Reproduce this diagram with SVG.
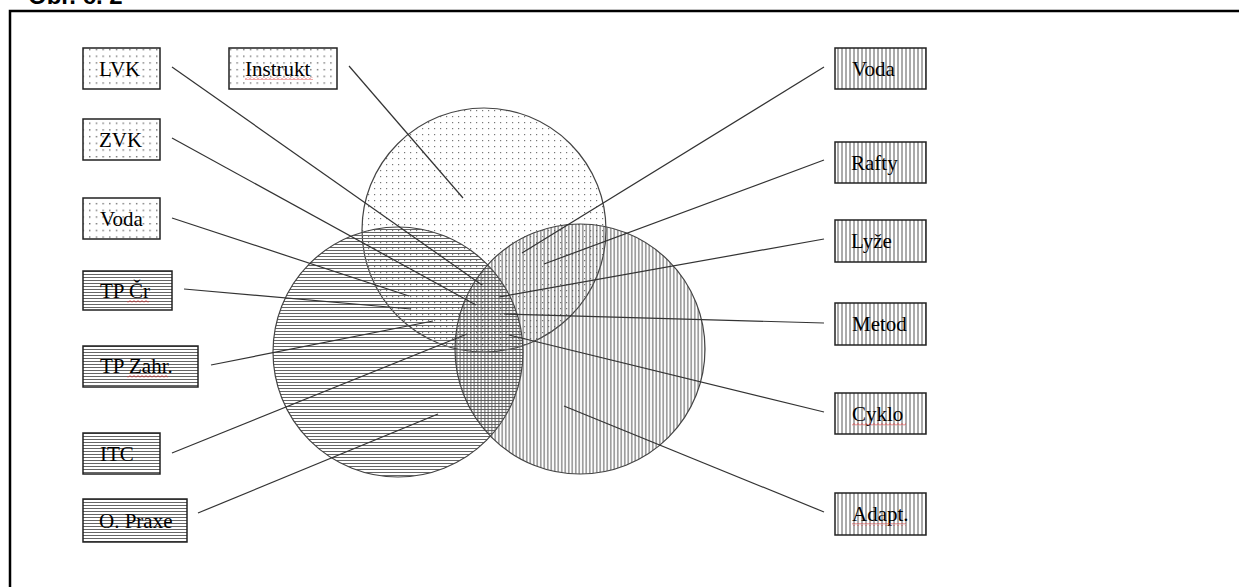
<svg xmlns="http://www.w3.org/2000/svg" width="1239" height="587" viewBox="0 0 1239 587">
<defs>
<pattern id="dots" width="6.7" height="6.7" patternUnits="userSpaceOnUse">
<rect x="2" y="2" width="1.3" height="1.3" fill="#555"/>
</pattern>
<pattern id="dotsC" width="6" height="6" patternUnits="userSpaceOnUse">
<rect x="2" y="2" width="1.2" height="1.2" fill="#777"/>
</pattern>
<pattern id="hlines" width="6" height="3" patternUnits="userSpaceOnUse">
<line x1="0" y1="1.5" x2="6" y2="1.5" stroke="#666" stroke-width="1"/>
</pattern>
<pattern id="vlines" width="4" height="6" patternUnits="userSpaceOnUse">
<line x1="2" y1="0" x2="2" y2="6" stroke="#555" stroke-width="1"/>
</pattern>
<pattern id="vlinesC" width="3.5" height="6" patternUnits="userSpaceOnUse">
<line x1="1.75" y1="0" x2="1.75" y2="6" stroke="#555" stroke-width="1"/>
</pattern>
<pattern id="squiggle" width="4" height="3" patternUnits="userSpaceOnUse">
<path d="M0,2.5 L2,0.5 L4,2.5" fill="none" stroke="#e03030" stroke-width="0.8"/>
</pattern>
</defs>
<style>
.box{stroke:#222;stroke-width:1.5}
.bg{fill:#fff}
.lbl{font-family:"Liberation Serif","Times New Roman",serif;font-size:21px;fill:#000}
.circ{stroke:#444;stroke-width:1.2}
.conn line{stroke:#333;stroke-width:1.2}
.title{font-family:"Liberation Sans",Arial,sans-serif;font-weight:bold;font-size:24px;fill:#000}
</style>
<rect width="1239" height="587" fill="#fff"/>
<text class="title" x="28" y="4">Obr. č. 2</text>
<path d="M10,587 V11 H1239" fill="none" stroke="#000" stroke-width="2.5"/>

<g id="circles">
<circle id="circle-top" class="circ" cx="484" cy="230" r="122" fill="url(#dotsC)"/>
<circle id="circle-left" class="circ" cx="398" cy="352" r="125" fill="url(#hlines)"/>
<circle id="circle-right" class="circ" cx="580" cy="349" r="125" fill="url(#vlinesC)"/>
</g>

<g id="connectors" class="conn">
<line x1="172" y1="67" x2="482" y2="285"/>
<line x1="349" y1="66" x2="463" y2="198"/>
<line x1="172" y1="138" x2="476" y2="305"/>
<line x1="172" y1="218" x2="409" y2="296"/>
<line x1="184" y1="289" x2="411" y2="309"/>
<line x1="211" y1="365" x2="433" y2="321"/>
<line x1="172" y1="453" x2="467" y2="334"/>
<line x1="198" y1="513" x2="438" y2="414"/>
<line x1="824" y1="67" x2="522" y2="253"/>
<line x1="824" y1="160" x2="544" y2="264"/>
<line x1="824" y1="239" x2="499" y2="297"/>
<line x1="824" y1="323" x2="504" y2="314"/>
<line x1="824" y1="412" x2="509" y2="335"/>
<line x1="824" y1="512" x2="564" y2="406"/>
</g>

<g id="node-lvk"><rect class="bg" x="83" y="48" width="77" height="41"/><rect class="box" x="83" y="48" width="77" height="41" fill="url(#dots)"/><text class="lbl" x="99" y="76">LVK</text></g>
<g id="node-instrukt"><rect class="bg" x="229" y="48" width="108" height="41"/><rect class="box" x="229" y="48" width="108" height="41" fill="url(#dots)"/><text class="lbl" x="245" y="76">Instrukt</text><rect x="245" y="77" width="68" height="3" fill="url(#squiggle)"/></g>
<g id="node-zvk"><rect class="bg" x="83" y="119" width="77" height="41"/><rect class="box" x="83" y="119" width="77" height="41" fill="url(#dots)"/><text class="lbl" x="99" y="147">ZVK</text></g>
<g id="node-voda-l"><rect class="bg" x="83" y="198" width="77" height="41"/><rect class="box" x="83" y="198" width="77" height="41" fill="url(#dots)"/><text class="lbl" x="100" y="226">Voda</text></g>
<g id="node-tpcr"><rect class="bg" x="83" y="271" width="89" height="39"/><rect class="box" x="83" y="271" width="89" height="39" fill="url(#hlines)"/><text class="lbl" x="100" y="298">TP Čr</text><rect x="127" y="300" width="22" height="3" fill="url(#squiggle)"/></g>
<g id="node-tpzahr"><rect class="bg" x="83" y="346" width="115" height="41"/><rect class="box" x="83" y="346" width="115" height="41" fill="url(#hlines)"/><text class="lbl" x="100" y="373">TP Zahr.</text><rect x="127" y="375" width="41" height="3" fill="url(#squiggle)"/></g>
<g id="node-itc"><rect class="bg" x="83" y="433" width="77" height="41"/><rect class="box" x="83" y="433" width="77" height="41" fill="url(#hlines)"/><text class="lbl" x="100" y="461">ITC</text></g>
<g id="node-opraxe"><rect class="bg" x="83" y="499" width="104" height="43"/><rect class="box" x="83" y="499" width="104" height="43" fill="url(#hlines)"/><text class="lbl" x="99" y="528">O. Praxe</text></g>

<g id="node-voda-r"><rect class="bg" x="835" y="48" width="91" height="41"/><rect class="box" x="835" y="48" width="91" height="41" fill="url(#vlines)"/><text class="lbl" x="852" y="76">Voda</text></g>
<g id="node-rafty"><rect class="bg" x="835" y="142" width="91" height="41"/><rect class="box" x="835" y="142" width="91" height="41" fill="url(#vlines)"/><text class="lbl" x="851" y="170">Rafty</text></g>
<g id="node-lyze"><rect class="bg" x="835" y="220" width="91" height="42"/><rect class="box" x="835" y="220" width="91" height="42" fill="url(#vlines)"/><text class="lbl" x="851" y="248">Lyže</text></g>
<g id="node-metod"><rect class="bg" x="835" y="303" width="91" height="42"/><rect class="box" x="835" y="303" width="91" height="42" fill="url(#vlines)"/><text class="lbl" x="852" y="331">Metod</text></g>
<g id="node-cyklo"><rect class="bg" x="835" y="393" width="91" height="41"/><rect class="box" x="835" y="393" width="91" height="41" fill="url(#vlines)"/><text class="lbl" x="852" y="421">Cyklo</text><rect x="852" y="423" width="54" height="3" fill="url(#squiggle)"/></g>
<g id="node-adapt"><rect class="bg" x="835" y="493" width="91" height="42"/><rect class="box" x="835" y="493" width="91" height="42" fill="url(#vlines)"/><text class="lbl" x="852" y="521">Adapt.</text><rect x="852" y="523" width="54" height="3" fill="url(#squiggle)"/></g>
</svg>
